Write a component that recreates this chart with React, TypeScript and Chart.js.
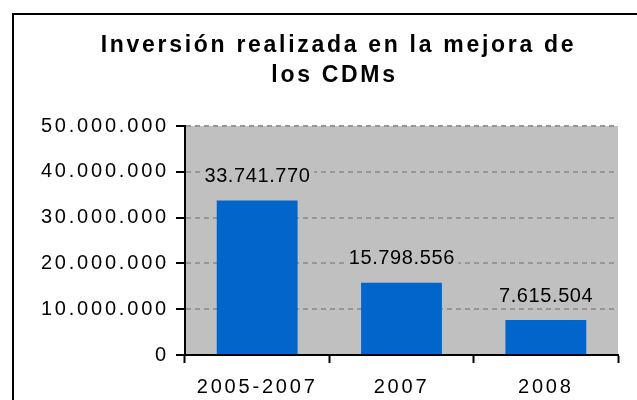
import React, { useEffect, useRef } from 'react';
import { Chart, registerables } from 'chart.js';

Chart.register(...registerables);

const categories: string[] = ['2005-2007', '2007', '2008'];
const values: number[] = [33741770, 15798556, 7615504];
const yMin = 0;
const yMax = 50000000;
const yStep = 10000000;
const titleLines: string[] = ['Inversión realizada en la mejora de', 'los CDMs'];

const FONT = '"Liberation Sans", Arial, sans-serif';
const PLOT_BG = '#C0C0C0';
const BAR_COLOR = '#0066CC';
const TICK_LS = '2.8px';

const fmt = (n: number) => Math.round(n).toString().replace(/\B(?=(\d{3})+(?!\d))/g, '.');

export default function App() {
  const ref = useRef<HTMLCanvasElement>(null);

  useEffect(() => {
    const canvas = ref.current;
    if (!canvas) return;
    const setLS = (c: any, v: string) => {
      (c.ctx as any).letterSpacing = v;
    };
    const plugin = {
      id: 'excelLook',
      beforeUpdate(c: any) {
        setLS(c, TICK_LS);
      },
      beforeLayout(c: any) {
        setLS(c, TICK_LS);
      },
      beforeDraw(c: any) {
        const { ctx, chartArea: a } = c;
        ctx.save();
        ctx.fillStyle = '#ffffff';
        ctx.fillRect(0, 0, c.width, c.height);
        ctx.fillStyle = PLOT_BG;
        ctx.fillRect(a.left, a.top, a.right - a.left, a.bottom - a.top);
        ctx.strokeStyle = '#000';
        ctx.lineWidth = 2;
        ctx.strokeRect(13, 14, 700, 500);
        ctx.restore();
        setLS(c, TICK_LS);
      },
      afterDatasetsDraw(c: any) {
        const ctx = c.ctx;
        const meta = c.getDatasetMeta(0);
        ctx.save();
        ctx.letterSpacing = '0.6px';
        ctx.font = `20px ${FONT}`;
        ctx.textAlign = 'center';
        ctx.textBaseline = 'middle';
        meta.data.forEach((bar: any, i: number) => {
          const text = fmt(values[i]);
          const w = ctx.measureText(text).width;
          const x = bar.x;
          const y = bar.y - 25;
          ctx.fillStyle = PLOT_BG;
          ctx.fillRect(x - w / 2 - 4, y - 11, w + 8, 22);
          ctx.fillStyle = '#000';
          ctx.fillText(text, x + 0.3, y + 1);
        });
        ctx.restore();
      },
      afterDraw(c: any) {
        const ctx = c.ctx;
        ctx.save();
        ctx.letterSpacing = '2.7px';
        ctx.font = `bold 23px ${FONT}`;
        ctx.textAlign = 'center';
        ctx.textBaseline = 'alphabetic';
        ctx.fillStyle = '#000';
        ctx.fillText(titleLines[0], 338.5, 52);
        ctx.fillText(titleLines[1], 334.5, 82);
        ctx.restore();
      },
    };

    const chart = new Chart(canvas, {
      type: 'bar',
      data: {
        labels: categories,
        datasets: [
          {
            data: values,
            backgroundColor: BAR_COLOR,
            barPercentage: 0.56,
            categoryPercentage: 1,
          },
        ],
      },
      options: {
        responsive: false,
        animation: false,
        events: [],
        devicePixelRatio: 1,
        layout: { padding: { left: 0, top: 126, right: 19, bottom: 0 } },
        plugins: {
          legend: { display: false },
          tooltip: { enabled: false },
          title: { display: false },
        },
        scales: {
          x: {
            offset: true,
            afterFit: (s: any) => {
              s.height = 45;
            },
            grid: {
              offset: true,
              drawOnChartArea: false,
              tickLength: 8,
              tickWidth: 2,
              tickColor: '#000',
            },
            border: { color: '#000', width: 2, z: 1 },
            ticks: {
              padding: 12,
              maxRotation: 0,
              autoSkip: false,
              color: '#000',
              font: { size: 20, family: FONT },
            },
          },
          y: {
            min: yMin,
            max: yMax,
            afterFit: (s: any) => {
              s.width = 185;
            },
            grid: {
              color: '#969696',
              lineWidth: 2,
              tickColor: '#000',
              tickWidth: 2,
              tickLength: 9,
              tickBorderDash: [],
            },
            border: { color: '#000', width: 2, dash: [5, 4], z: 1 },
            ticks: {
              stepSize: yStep,
              padding: 7,
              color: '#000',
              font: { size: 20, family: FONT },
              callback: (v: any) => fmt(Number(v)),
            },
          },
        },
      },
      plugins: [plugin],
    } as any);

    return () => {
      chart.destroy();
    };
  }, []);

  return (
    <div style={{ position: 'absolute', left: 0, top: 0, width: 637, height: 400, background: '#fff' }}>
      <canvas ref={ref} width={637} height={400} style={{ display: 'block' }} />
    </div>
  );
}
